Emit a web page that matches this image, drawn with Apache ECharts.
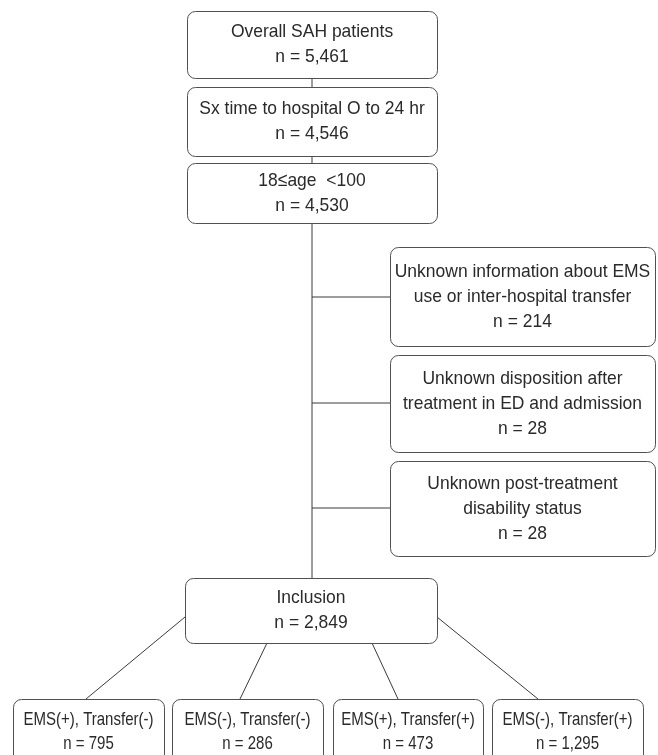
<!DOCTYPE html>
<html><head><meta charset="utf-8">
<script src="https://cdn.jsdelivr.net/npm/echarts@6/dist/echarts.min.js"></script>
<style>html,body{margin:0;padding:0;background:#fff}#c{width:658px;height:755px}</style>
</head><body><div id="c"></div>
<script>
// ---- data ----
const boxLabels = [
  'Overall SAH patients',
  'Sx time to hospital O to 24 hr',
  '18\u2264age  <100',
  'Unknown information about EMS\nuse or inter-hospital transfer',
  'Unknown disposition after\ntreatment in ED and admission',
  'Unknown post-treatment\ndisability status',
  'Inclusion',
  'EMS(+), Transfer(-)',
  'EMS(-), Transfer(-)',
  'EMS(+), Transfer(+)',
  'EMS(-), Transfer(+)'
];
const boxCounts = [5461, 4546, 4530, 214, 28, 28, 2849, 795, 286, 473, 1295];

// ---- layout (pixel frame 0..658 x 0..755) ----
const boxRects = [
  [187, 11, 437, 78],
  [187, 87, 437, 156],
  [187, 163, 437, 223],
  [390, 247, 655, 346],
  [390, 355, 655, 452],
  [390, 461, 655, 556],
  [185, 578, 437, 643],
  [13, 699, 164, 770],
  [172, 699, 323, 770],
  [333, 699, 483, 770],
  [492, 699, 643, 770]
];
const connectors = [
  [312, 78, 312, 87],
  [312, 156, 312, 163],
  [312, 223, 312, 578],
  [312, 297, 390, 297],
  [312, 403, 390, 403],
  [312, 508, 390, 508],
  [185, 617, 86, 699],
  [267, 643, 240, 699],
  [372, 643, 398, 699],
  [437, 617, 538, 699]
];

const FONT = '"Liberation Sans",Arial,"Helvetica",sans-serif';
const chart = echarts.init(document.getElementById('c'));
const boxData = boxRects.map((r, i) => [r[0], r[1], r[2], r[3], i]);

chart.setOption({
  animation: false,
  backgroundColor: '#fff',
  grid: {left: 0, right: 0, top: 0, bottom: 0},
  xAxis: {type: 'value', min: 0, max: 658, show: false},
  yAxis: {type: 'value', min: 0, max: 755, inverse: true, show: false},
  series: [
    {
      type: 'custom',
      data: connectors,
      renderItem: function (params, api) {
        const a = api.coord([api.value(0), api.value(1)]);
        const b = api.coord([api.value(2), api.value(3)]);
        return {type: 'line', shape: {x1: a[0], y1: a[1], x2: b[0], y2: b[1]},
          style: {stroke: '#3a3a3a', lineWidth: 1}};
      },
      z: 1
    },
    {
      type: 'custom',
      data: boxData,
      renderItem: function (params, api) {
        const p0 = api.coord([api.value(0), api.value(1)]);
        const p1 = api.coord([api.value(2), api.value(3)]);
        const i = api.value(4);
        const txt = boxLabels[i] + '\nn = ' + boxCounts[i].toLocaleString('en-US');
        const cx = (p0[0] + p1[0]) / 2;
        let cy = (p0[1] + p1[1]) / 2;
        const bottom = i >= 7;
        if (bottom) cy = p0[1] + 33;
        return {type: 'group', children: [
          {type: 'rect', shape: {x: p0[0] + 0.5, y: p0[1] + 0.5, width: p1[0] - p0[0], height: p1[1] - p0[1], r: 8},
            style: {fill: '#fff', stroke: '#505050', lineWidth: 1}},
          {type: 'text', x: cx, y: cy, scaleX: bottom ? 0.79 : 0.92,
            style: {text: txt, x: 0, y: 0, align: 'center', verticalAlign: 'middle',
            font: '19px ' + FONT, lineHeight: bottom ? 24 : 25, fill: '#2a2a2a'}}
        ]};
      },
      z: 2
    }
  ]
});
</script></body></html>
